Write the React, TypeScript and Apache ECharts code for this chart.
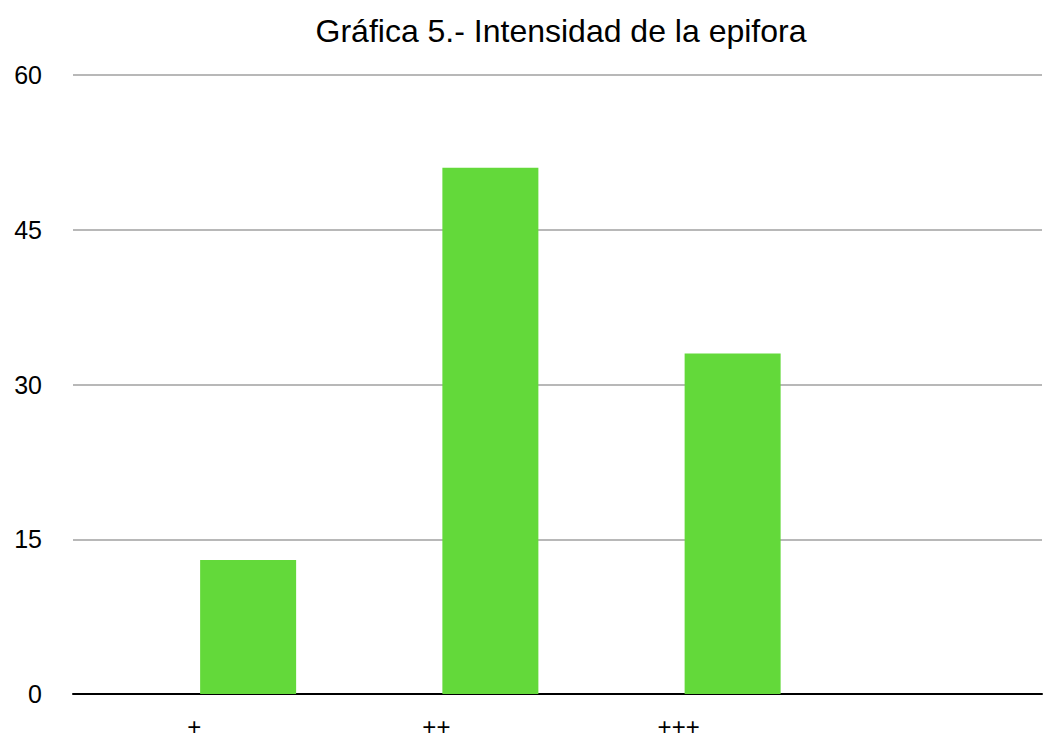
import React, { useEffect, useRef } from "react";
import * as echarts from "echarts";

// Intensity grades on the x axis (the fourth slot is left blank)
const categories = ["+", "++", "+++", ""];
// Number of cases per grade
const casos = [13, 51, 33, null];
// Spacer series that keeps each bar in the right half of its slot
const vacio = [null, null, null, null];
const yTicks = { min: 0, max: 60, interval: 15 };

const FONT = "'Liberation Sans', Arial, Helvetica, sans-serif";

export default function App() {
  const ref = useRef<HTMLDivElement>(null);

  useEffect(() => {
    if (!ref.current) return;
    const chart = echarts.init(ref.current, undefined, { renderer: "svg" });
    chart.setOption({
      animation: false,
      backgroundColor: "#ffffff",
      title: {
        text: "Gráfica 5.- Intensidad de la epifora",
        left: 556,
        textAlign: "center",
        top: 10,
        textStyle: {
          fontFamily: FONT,
          fontSize: 32,
          fontWeight: "normal",
          color: "#000000",
        },
      },
      grid: { left: 73, right: 2, top: 75, bottom: 45, containLabel: false },
      xAxis: {
        type: "category",
        data: categories,
        axisLine: { show: true, lineStyle: { color: "#000000", width: 2 } },
        axisTick: { show: false },
        axisLabel: {
          fontFamily: FONT,
          fontSize: 24,
          color: "#000000",
          margin: 20,
        },
        splitLine: { show: false },
      },
      yAxis: {
        type: "value",
        min: yTicks.min,
        max: yTicks.max,
        interval: yTicks.interval,
        axisLine: { show: false },
        axisTick: { show: false },
        axisLabel: {
          fontFamily: FONT,
          fontSize: 25,
          color: "#000000",
          margin: 31,
        },
        splitLine: { lineStyle: { color: "#b8b8b8", width: 2 } },
      },
      series: [
        {
          type: "bar",
          data: vacio,
          barWidth: 96,
          barGap: "12.5%",
          itemStyle: { color: "transparent" },
        },
        {
          type: "bar",
          data: casos,
          barWidth: 96,
          barGap: "12.5%",
          itemStyle: { color: "#63d93a" },
        },
      ],
    });
    return () => chart.dispose();
  }, []);

  return (
    <div
      ref={ref}
      style={{ position: "fixed", left: 0, top: 0, width: 1044, height: 739 }}
    />
  );
}
